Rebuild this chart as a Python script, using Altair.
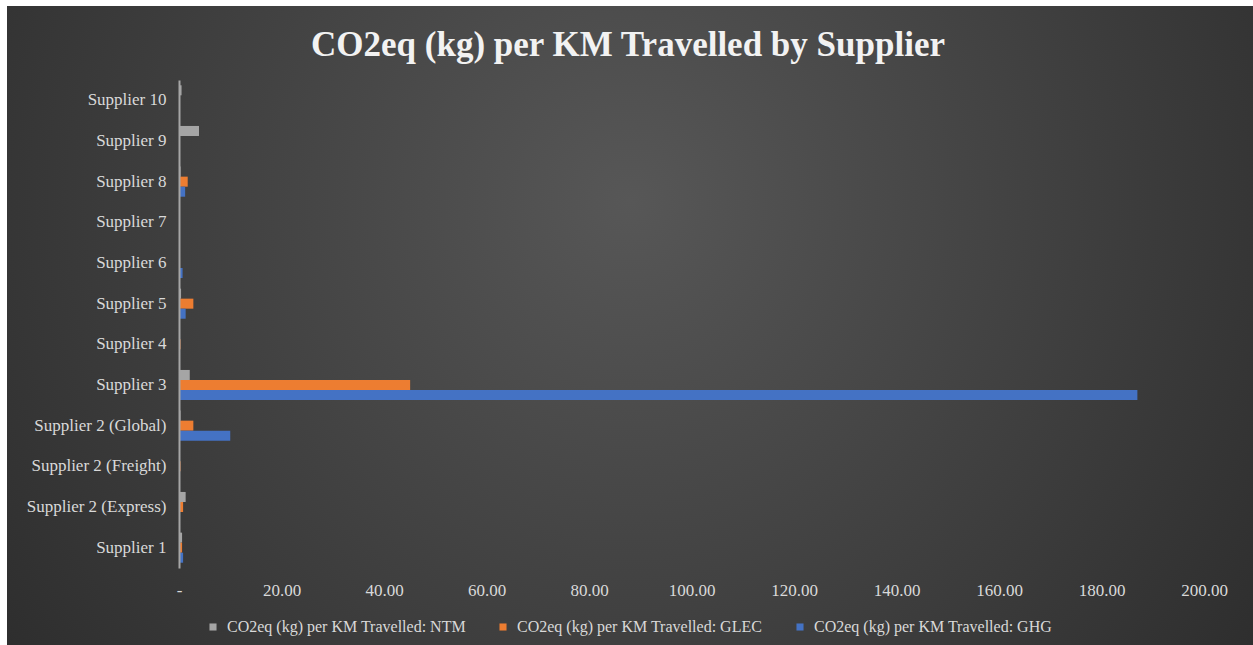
import altair as alt
import pandas as pd

# Suppliers listed top to bottom as they appear on the axis
suppliers = [
    "Supplier 10", "Supplier 9", "Supplier 8", "Supplier 7", "Supplier 6",
    "Supplier 5", "Supplier 4", "Supplier 3", "Supplier 2 (Global)",
    "Supplier 2 (Freight)", "Supplier 2 (Express)", "Supplier 1",
]
series = [
    "CO2eq (kg) per KM Travelled: NTM",
    "CO2eq (kg) per KM Travelled: GLEC",
    "CO2eq (kg) per KM Travelled: GHG",
]
ntm = [0.5, 3.9, 0.3, 0.1, 0.1, 0.4, 0.2, 2.1, 0.3, 0.1, 1.3, 0.6]
glec = [0.05, 0.05, 1.7, 0.1, 0.2, 2.8, 0.3, 45.1, 2.8, 0.3, 0.8, 0.6]
ghg = [0.1, 0.1, 1.2, 0.15, 0.7, 1.3, 0.1, 187.0, 10.0, 0.05, 0.1, 0.8]
colors = ["#A5A5A5", "#ED7D31", "#4472C4"]
x_ticks = [0, 20, 40, 60, 80, 100, 120, 140, 160, 180, 200]
chart_title = "CO2eq (kg) per KM Travelled by Supplier"

rows = []
for name, vals in zip(series, [ntm, glec, ghg]):
    for sup, v in zip(suppliers, vals):
        rows.append({"supplier": sup, "series": name, "value": v})
df = pd.DataFrame(rows)

FONT = "'Liberation Serif', 'Times New Roman', 'DejaVu Serif', serif"
TEXT = "#D9D9D9"

# Dark panel behind the whole chart with a soft radial highlight
panel = alt.Chart(pd.DataFrame({"k": [0]})).mark_rect(
    fill={
        "gradient": "radial",
        "x1": 0.5, "y1": 0.4, "r1": 0.0,
        "x2": 0.5, "y2": 0.4, "r2": 0.75,
        "stops": [
            {"offset": 0, "color": "#575757"},
            {"offset": 1, "color": "#252525"},
        ],
    }
).encode(
    x=alt.value(-172), x2=alt.value(1074),
    y=alt.value(-74), y2=alt.value(565),
)

# Chart heading, centred on the panel
heading = alt.Chart(pd.DataFrame({"t": [chart_title]})).mark_text(
    font=FONT, fontSize=35, fontWeight="bold", color="#F2F2F2",
    align="center", baseline="alphabetic",
).encode(text="t:N", x=alt.value(449), y=alt.value(-24))

bars = alt.Chart(df).mark_bar().encode(
    y=alt.Y(
        "supplier:N",
        sort=suppliers,
        scale=alt.Scale(paddingInner=0.26, paddingOuter=0.13),
        axis=alt.Axis(
            title=None, ticks=False, labelFont=FONT, labelFontSize=17,
            labelColor=TEXT, labelPadding=13, domainColor="#A6A6A6",
            domainWidth=2, grid=False, zindex=1,
        ),
    ),
    yOffset=alt.YOffset("series:N", sort=series, scale=alt.Scale(paddingInner=0.0)),
    x=alt.X(
        "value:Q",
        scale=alt.Scale(domain=[0, 200], nice=False),
        axis=alt.Axis(
            title=None, values=x_ticks, domain=False, ticks=False, grid=False,
            labelExpr="datum.value == 0 ? '-' : format(datum.value, '.2f')",
            labelFont=FONT, labelFontSize=17, labelColor=TEXT, labelPadding=14,
            labelFlush=False, zindex=1,
        ),
    ),
    color=alt.Color(
        "series:N",
        sort=series,
        scale=alt.Scale(domain=series, range=colors),
        legend=alt.Legend(
            title=None, orient="none", direction="horizontal",
            legendX=26, legendY=539, symbolType="square", symbolSize=50,
            symbolStrokeWidth=0, labelFont=FONT, labelFontSize=16,
            labelColor=TEXT, columnPadding=29, labelOffset=6, labelLimit=0,
        ),
    ),
)

chart = alt.layer(panel, heading, bars).properties(
    width=1025,
    height=488,
    padding={"left": 179, "top": 80, "right": 49, "bottom": 77},
    autosize=alt.AutoSizeParams(type="none"),
    background="#FFFFFF",
).configure_view(stroke=None)

chart.save("out.html", embed_options={"renderer": "svg", "actions": False})
